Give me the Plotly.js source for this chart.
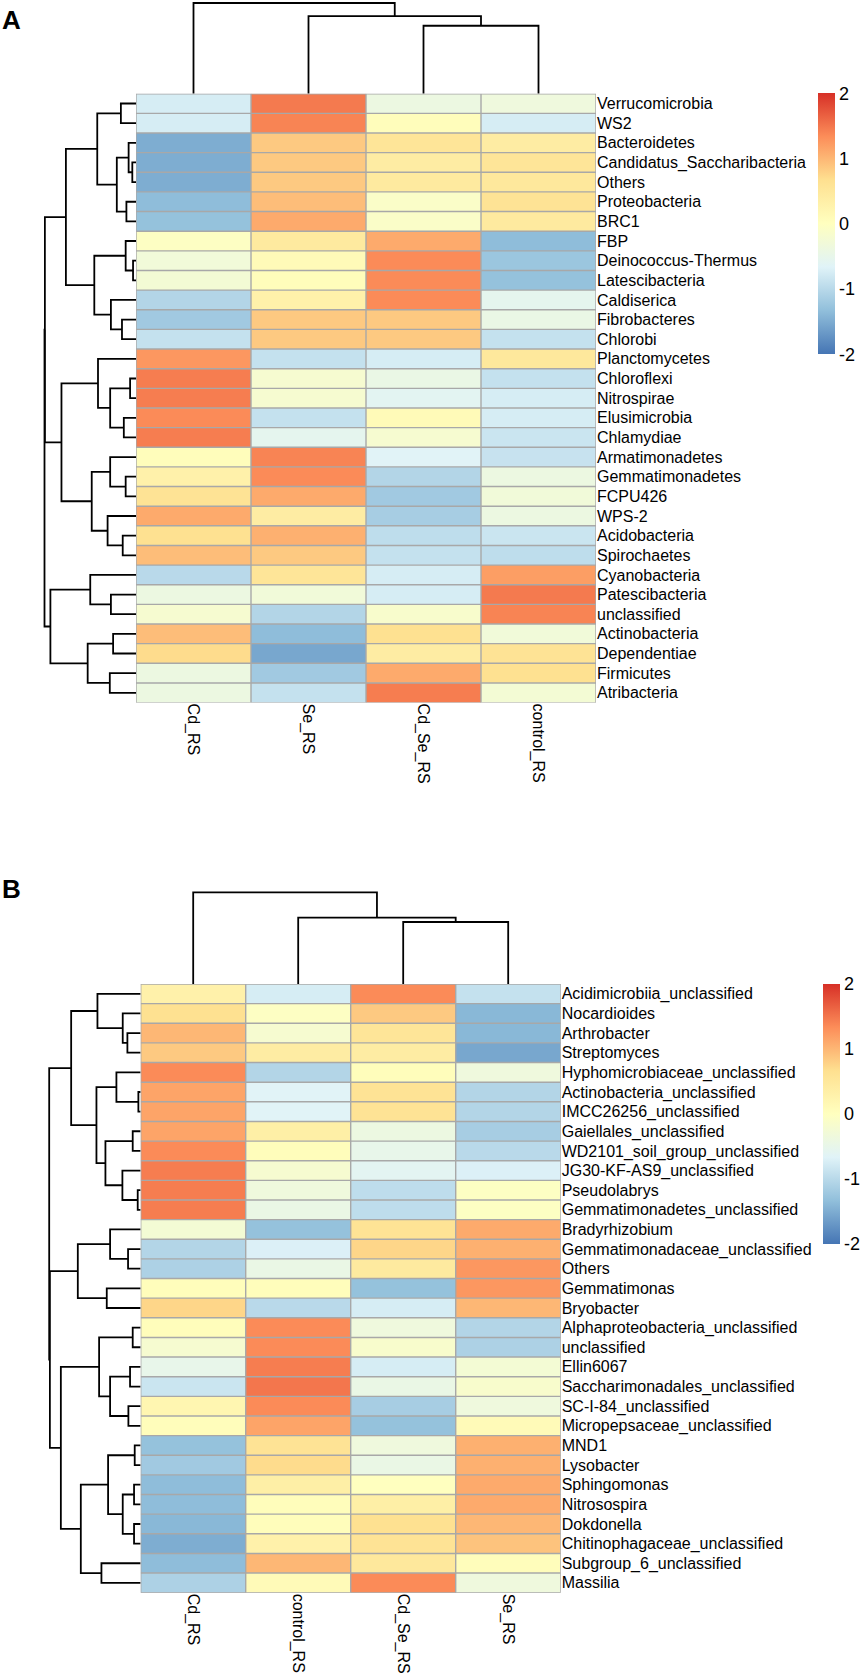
<!DOCTYPE html>
<html><head><meta charset="utf-8">
<script src="https://cdn.plot.ly/plotly-3.0.1.min.js"></script>
<style>html,body{margin:0;padding:0;background:#fff}#chart{width:868px;height:1680px}</style>
</head><body><div id="chart"></div>
<script>
// ---------------- Panel A data ----------------
const colsA = ['Cd_RS','Se_RS','Cd_Se_RS','control_RS'];
const rowsA = ['Verrucomicrobia','WS2','Bacteroidetes','Candidatus_Saccharibacteria','Others','Proteobacteria','BRC1','FBP','Deinococcus-Thermus','Latescibacteria','Caldiserica','Fibrobacteres','Chlorobi','Planctomycetes','Chloroflexi','Nitrospirae','Elusimicrobia','Chlamydiae','Armatimonadetes','Gemmatimonadetes','FCPU426','WPS-2','Acidobacteria','Spirochaetes','Cyanobacteria','Patescibacteria','unclassified','Actinobacteria','Dependentiae','Firmicutes','Atribacteria'];
const A_Cd_RS      = [-0.75,-0.75,-1.5,-1.5,-1.5,-1.35,-1.3,-0.05,-0.3,-0.25,-1.05,-1.2,-0.9,1.25,1.45,1.45,1.35,1.45,0.05,0.3,0.6,1.1,0.65,0.95,-1.0,-0.4,-0.2,0.95,0.7,-0.4,-0.4];
const A_Se_RS      = [1.47,1.4,0.85,0.85,0.85,0.95,1.1,0.45,0.1,0.05,0.3,0.85,0.85,-0.9,-0.2,-0.2,-0.9,-0.55,1.4,1.35,1.1,0.4,1.05,0.85,0.55,-0.3,-1.05,-1.35,-1.55,-1.2,-0.9];
const A_Cd_Se_RS   = [-0.4,0.05,0.55,0.4,0.45,-0.1,-0.1,1.1,1.35,1.35,1.35,0.85,0.85,-0.75,-0.45,-0.6,0.1,-0.2,-0.65,-1.05,-1.2,-1.15,-0.95,-0.9,-0.75,-0.75,-0.15,0.65,0.4,1.1,1.45];
const A_control_RS = [-0.35,-0.75,0.4,0.55,0.5,0.6,0.45,-1.35,-1.25,-1.3,-0.55,-0.45,-0.9,0.5,-0.9,-0.75,-0.75,-0.85,-0.88,-0.4,-0.3,-0.4,-0.85,-0.95,1.2,1.47,1.4,-0.3,0.6,0.65,-0.25];
// dendrograms: [mergeHeight, left, right]; numbers are leaf indices
const rowTreeA = [248,
  [247,
    [190,
      [105, [41,0,1], [52, [20,2,[10,3,4]], [26,5,6]]],
      [113, [28,7,[8,8,9]], [68,10,[38,11,12]]]],
    [202,
      [103, 13, [70, [16,14,15], [33,16,17]]],
      [120, [70,18,[28,19,20]], [77,21,[36,22,23]]]]],
  [232, [124,24,[68,25,26]], [131,[62,27,28],[71,29,30]]]];
const colTreeA = [90.5, 0, [77.5, 1, [67.8, 2, 3]]];

// ---------------- Panel B data ----------------
const colsB = ['Cd_RS','control_RS','Cd_Se_RS','Se_RS'];
const rowsB = ['Acidimicrobiia_unclassified','Nocardioides','Arthrobacter','Streptomyces','Hyphomicrobiaceae_unclassified','Actinobacteria_unclassified','IMCC26256_unclassified','Gaiellales_unclassified','WD2101_soil_group_unclassified','JG30-KF-AS9_unclassified','Pseudolabrys','Gemmatimonadetes_unclassified','Bradyrhizobium','Gemmatimonadaceae_unclassified','Others','Gemmatimonas','Bryobacter','Alphaproteobacteria_unclassified','unclassified','Ellin6067','Saccharimonadales_unclassified','SC-I-84_unclassified','Micropepsaceae_unclassified','MND1','Lysobacter','Sphingomonas','Nitrosospira','Dokdonella','Chitinophagaceae_unclassified','Subgroup_6_unclassified','Massilia'];
const B_Cd_RS      = [0.3,0.65,1.0,0.85,1.35,1.15,1.15,1.15,1.35,1.45,1.45,1.45,-0.25,-1.05,-1.1,0.05,0.75,0.05,-0.2,-0.5,-0.85,0.2,0.05,-1.3,-1.2,-1.35,-1.35,-1.4,-1.5,-1.35,-1.1];
const B_control_RS = [-0.75,-0.05,-0.2,0.4,-1.05,-0.65,-0.65,0.35,0.05,-0.2,-0.35,-0.45,-1.3,-0.7,-0.45,0.05,-1.0,1.35,1.35,1.45,1.5,1.35,1.15,0.6,0.7,0.35,0.05,0.05,0.3,1.0,0.1];
const B_Cd_Se_RS   = [1.35,0.85,0.55,0.4,0.05,0.6,0.6,-0.4,-0.5,-0.6,-0.95,-0.95,0.6,0.75,0.45,-1.3,-0.75,-0.35,-0.15,-0.75,-0.45,-1.15,-1.3,-0.35,-0.45,0.0,0.35,0.65,0.6,0.5,1.35];
const B_Se_RS      = [-0.9,-1.4,-1.4,-1.55,-0.35,-1.05,-1.05,-1.15,-1.0,-0.7,-0.05,-0.05,1.1,1.05,1.25,1.25,1.0,-1.05,-1.1,-0.25,-0.15,-0.35,0.1,1.05,1.05,1.1,1.1,1.0,0.9,0.05,-0.35];
const rowTreeB = [275,
  [209,
    [130, 0, [54, 1, [40,2,3]]],
    [133, [73,4,[7,5,6]], [106, [24,7,8], [55,9,[9,10,11]]]]],
  [273,
    [189, [92,12,[38,13,14]], [102,15,16]],
    [240,
      [125, [24,17,18], [92,[32,19,20],[37,21,22]]],
      [180, [98,[18,23,24],[54,[20,25,26],[20,27,28]]], [118,29,30]]]]];
const colTreeB = [91.7, 0, [66.3, 1, [62, 2, 3]]];

const tickVals = [-2,-1,0,1,2];
const colorStops = ['#4575B4','#91BFDB','#E0F3F8','#FFFFBF','#FEE090','#FC8D59','#D73027'];

// ---------------- layout helpers ----------------
const W = 868, H = 1680;
const FONT = 'Liberation Sans, Arial, Helvetica, sans-serif';
const fx = p => p / W, fy = p => 1 - p / H;
const colorscale = colorStops.map((c,i)=>[i/(colorStops.length-1), c]);

function dendroSegs(tree){
  const xs=[], ys=[];
  function walk(n){
    if (typeof n === 'number') return {p:n, h:0};
    const a = walk(n[1]), b = walk(n[2]), h = n[0];
    xs.push(a.p, a.p, b.p, b.p, null);
    ys.push(a.h, h, h, b.h, null);
    return {p:(a.p+b.p)/2, h:h};
  }
  walk(tree);
  return {pos:xs, hgt:ys};
}

const panels = [
  {rows:rowsA, cols:colsA, vals:[A_Cd_RS,A_Se_RS,A_Cd_Se_RS,A_control_RS], rowTree:rowTreeA, colTree:colTreeA,
   L:136, R:596, T:93.7, B:702.6, rowRoot:44.5, colRoot:3.0, cbX:818.3, cbT:93.3, cbLen:261, label:'A', labY:20},
  {rows:rowsB, cols:colsB, vals:[B_Cd_RS,B_control_RS,B_Cd_Se_RS,B_Se_RS], rowTree:rowTreeB, colTree:colTreeB,
   L:140.7, R:560.7, T:984, B:1592.7, rowRoot:49.2, colRoot:892.3, cbX:823.3, cbT:984, cbLen:260, label:'B', labY:889}
];

const data = [], layout = {
  width:W, height:H, margin:{l:0,r:0,t:0,b:0}, paper_bgcolor:'#fff', plot_bgcolor:'rgba(0,0,0,0)',
  showlegend:false, shapes:[], annotations:[], font:{family:FONT, color:'#000'}
};
const PAD = 3, GRID = '#A8A8A8';

panels.forEach((pn, k) => {
  const base = k*3;
  const hx = 'x'+(base+1), hy = 'y'+(base+1);
  const rx = 'x'+(base+2), ry = 'y'+(base+2);
  const cx = 'x'+(base+3), cy = 'y'+(base+3);
  const ax = n => n==='x1'?'xaxis':'xaxis'+n.slice(1);
  const ay = n => n==='y1'?'yaxis':'yaxis'+n.slice(1);
  const nR = pn.rows.length, nC = pn.cols.length;
  const xr = [-0.5, nC-0.5], yr = [nR-0.5, -0.5];
  const z = pn.rows.map((_,i)=>pn.vals.map(col=>col[i]));
  const hxD = [fx(pn.L), fx(pn.R)], hyD = [fy(pn.B), fy(pn.T)];

  data.push({type:'heatmap', xaxis:hx, yaxis:hy, z:z, x:pn.cols.map((_,j)=>j), y:pn.rows.map((_,i)=>i),
    zmin:-2, zmax:2, colorscale:colorscale, hoverinfo:'skip',
    colorbar:{x:fx(pn.cbX), xanchor:'left', y:fy(pn.cbT), yanchor:'top', len:pn.cbLen, lenmode:'pixels',
      thickness:16.7, thicknessmode:'pixels', xpad:0, ypad:0, outlinewidth:0,
      tickvals:tickVals, ticktext:tickVals.map(String), ticks:'', tickfont:{family:FONT, size:18, color:'#000'}}});

  layout[ax(hx)] = {domain:hxD, range:xr, anchor:hy, tickvals:pn.cols.map((_,j)=>j), ticktext:pn.cols,
    tickangle:90, ticks:'', showgrid:false, zeroline:false, showline:false, tickfont:{family:FONT,size:16,color:'#000'},
    fixedrange:true, automargin:false};
  layout[ay(hy)] = {domain:hyD, range:yr, anchor:hx, side:'right', tickvals:pn.rows.map((_,i)=>i), ticktext:pn.rows,
    ticks:'', showgrid:false, zeroline:false, showline:false, tickfont:{family:FONT,size:16,color:'#000'},
    fixedrange:true, automargin:false};

  // grid lines between cells
  for (let i=0;i<=nR;i++) layout.shapes.push({type:'line', xref:hx, yref:hy, x0:-0.5, x1:nC-0.5, y0:i-0.5, y1:i-0.5, line:{color:GRID, width:1.4}, layer:'above'});
  for (let j=0;j<=nC;j++) layout.shapes.push({type:'line', xref:hx, yref:hy, x0:j-0.5, x1:j-0.5, y0:-0.5, y1:nR-0.5, line:{color:GRID, width:1.4}, layer:'above'});

  // row dendrogram
  const rd = dendroSegs(pn.rowTree);
  const rSpan = pn.L - pn.rowRoot;
  data.push({type:'scatter', mode:'lines', xaxis:rx, yaxis:ry, x:rd.hgt, y:rd.pos, line:{color:'#000', width:1.8}, hoverinfo:'skip'});
  layout[ax(rx)] = {domain:[fx(pn.rowRoot-PAD), fx(pn.L)], range:[pn.rowTree[0]*(rSpan+PAD)/rSpan, 0], visible:false, anchor:ry, fixedrange:true};
  layout[ay(ry)] = {domain:hyD, range:yr, visible:false, anchor:rx, fixedrange:true};

  // column dendrogram
  const cd = dendroSegs(pn.colTree);
  const cSpan = pn.T - pn.colRoot;
  data.push({type:'scatter', mode:'lines', xaxis:cx, yaxis:cy, x:cd.pos, y:cd.hgt, line:{color:'#000', width:1.8}, hoverinfo:'skip'});
  layout[ax(cx)] = {domain:hxD, range:xr, visible:false, anchor:cy, fixedrange:true};
  layout[ay(cy)] = {domain:[fy(pn.T), fy(pn.colRoot-PAD)], range:[0, pn.colTree[0]*(cSpan+PAD)/cSpan], visible:false, anchor:cx, fixedrange:true};

  layout.annotations.push({text:'<b>'+pn.label+'</b>', xref:'paper', yref:'paper', x:0, y:fy(pn.labY), xanchor:'left', yanchor:'middle',
    showarrow:false, font:{family:FONT, size:26, color:'#000'}});
});

Plotly.newPlot('chart', data, layout, {staticPlot:true, displayModeBar:false});
</script></body></html>
